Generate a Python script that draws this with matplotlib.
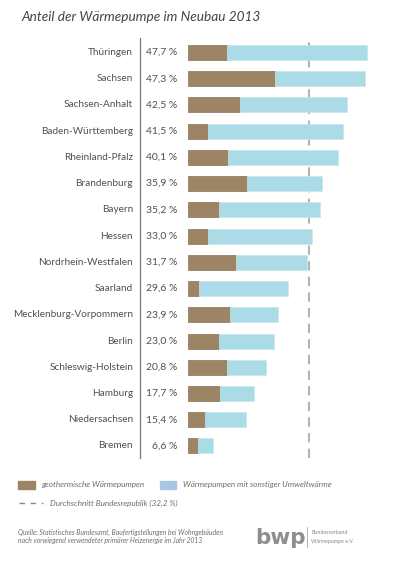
import matplotlib
matplotlib.use("Agg")
import matplotlib.pyplot as plt
from matplotlib.transforms import blended_transform_factory
from matplotlib.lines import Line2D
from matplotlib.patches import Rectangle

# ---- data ----
states = ["Thüringen", "Sachsen", "Sachsen-Anhalt", "Baden-Württemberg", "Rheinland-Pfalz",
          "Brandenburg", "Bayern", "Hessen", "Nordrhein-Westfalen", "Saarland",
          "Mecklenburg-Vorpommern", "Berlin", "Schleswig-Holstein", "Hamburg",
          "Niedersachsen", "Bremen"]
value_labels = ["47,7 %", "47,3 %", "42,5 %", "41,5 %", "40,1 %", "35,9 %", "35,2 %", "33,0 %",
                "31,7 %", "29,6 %", "23,9 %", "23,0 %", "20,8 %", "17,7 %", "15,4 %", "6,6 %"]
geothermal = [10.3, 23.2, 13.8, 5.3, 10.6, 15.7, 8.4, 5.3, 12.9, 2.9, 11.1, 8.4, 10.5, 8.6, 4.5, 2.8]
total = [47.7, 47.3, 42.5, 41.5, 40.1, 35.9, 35.2, 33.0, 31.7, 26.7, 23.9, 23.0, 20.8, 17.7, 15.4, 6.6]
other = [t - g for t, g in zip(total, geothermal)]
average = 32.2
title = "Anteil der Wärmepumpe im Neubau 2013"
legend_labels = ["geothermische Wärmepumpen", "Wärmepumpen mit sonstiger Umweltwärme",
                 "Durchschnitt Bundesrepublik (32,2 %)"]
source = ["Quelle: Statistisches Bundesamt, Baufertigstellungen bei Wohngebäuden",
          "nach vorwiegend verwendeter primärer Heizenergie im Jahr 2013"]

# ---- style ----
W, H, DPI = 400, 566, 100
BROWN = "#9c8464"
BLUE = "#aadbe6"
LEGBLUE = "#a9c5e6"
TXT = "#505050"
FONT = ["Lato", "DejaVu Sans"]
plt.rcParams["font.family"] = FONT

fig = plt.figure(figsize=(W / DPI, H / DPI), dpi=DPI)
fig.patch.set_facecolor("white")

def fx(px):
    return px / W

def fy(py):
    return 1 - py / H

px_per_pct = 3.746
ax_left_px, ax_w_px = 188, 200
ax_top_px, ax_bot_px = 38, 458
ax = fig.add_axes([fx(ax_left_px), fy(ax_bot_px), ax_w_px / W, (ax_bot_px - ax_top_px) / H])
ax.set_xlim(0, ax_w_px / px_per_pct)
row0, step = 52.5, 26.23
ax.set_ylim((ax_bot_px - row0) / step, (ax_top_px - row0) / step)
ax.axis("off")

y = list(range(len(states)))
ax.barh(y, geothermal, height=0.57, color=BROWN, edgecolor="#8a7355", linewidth=0.5)
ax.barh(y, other, left=geothermal, height=0.57, color=BLUE, edgecolor="#c5e8ef", linewidth=0.5)
ax.axvline(average, color="#b4b4b4", linewidth=1.5, dashes=(4.5, 3), zorder=0.5)

trans = blended_transform_factory(fig.transFigure, ax.transData)
for i, (s, v) in enumerate(zip(states, value_labels)):
    ax.text(fx(133), i, s, transform=trans, ha="right", va="center", fontsize=7.2, color=TXT)
    ax.text(fx(177), i, v, transform=trans, ha="right", va="center", fontsize=7.5, color=TXT)

fig.add_artist(Line2D([fx(140), fx(140)], [fy(38), fy(458)], color="#7a7a7a", linewidth=0.9))

fig.text(fx(21), fy(17), title, fontsize=9.8, style="italic", color="#444444", va="center")

# legend
LEGTXT = "#6e6e6e"
fig.add_artist(Rectangle((fx(18), fy(489)), fx(35) - fx(18), (489 - 481) / H,
                         transform=fig.transFigure, color=BROWN))
fig.text(fx(41), fy(485), legend_labels[0], fontsize=5.9, style="italic", color=LEGTXT, va="center")
fig.add_artist(Rectangle((fx(160), fy(489)), fx(176) - fx(160), (489 - 481) / H,
                         transform=fig.transFigure, color=LEGBLUE))
fig.text(fx(183), fy(485), legend_labels[1], fontsize=5.9, style="italic", color=LEGTXT, va="center")
fig.add_artist(Line2D([fx(19), fx(43)], [fy(503), fy(503)], color="#8a8a8a", linewidth=1.0,
                      dashes=(4, 4)))
fig.text(fx(50), fy(503), legend_labels[2], fontsize=5.9, style="italic", color=LEGTXT, va="center")

# source
fig.text(fx(18), fy(532), source[0], fontsize=4.85, style="italic", color=LEGTXT, va="center")
fig.text(fx(18), fy(541), source[1], fontsize=4.85, style="italic", color=LEGTXT, va="center")

# logo
fig.text(fx(255), fy(538), "bwp", fontsize=15.5, fontweight="bold", color="#8e8e8e", va="center",
         family=["DejaVu Sans"])
fig.add_artist(Line2D([fx(307), fx(307)], [fy(527), fy(547)], color="#aaaaaa", linewidth=0.6))
fig.text(fx(311), fy(532), "Bundesverband", fontsize=3.8, color="#888888", va="center")
fig.text(fx(311), fy(541), "Wärmepumpe e.V.", fontsize=3.8, color="#888888", va="center")

fig.savefig("out.png", dpi=DPI, facecolor="white")
